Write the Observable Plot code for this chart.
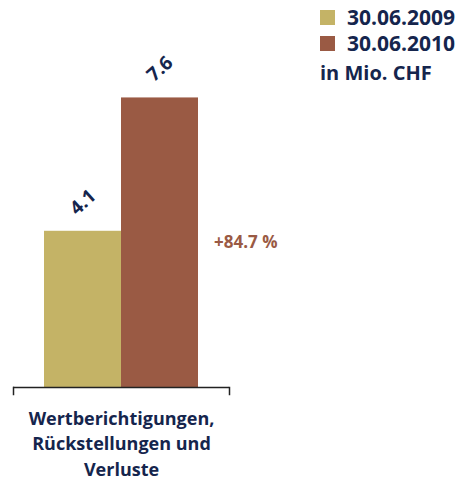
<!DOCTYPE html>
<html>
<head>
<meta charset="utf-8">
<script src="https://cdn.jsdelivr.net/npm/d3@7"></script>
<script src="https://cdn.jsdelivr.net/npm/@observablehq/plot@0.6"></script>
<style>
  html, body { margin: 0; padding: 0; background: #fff; }
  #wrap { position: relative; width: 462px; height: 480px; font-family: "Open Sans", sans-serif; overflow: hidden; }
  #legend { position: absolute; left: 320px; top: 4px; color: #15254d; font-weight: 700; }
  .item { display: flex; align-items: center; height: 26px; font-size: 21px; }
  .sw { width: 15px; height: 15px; margin-right: 12px; }
  .unit { font-size: 20px; margin-top: 3px; }
</style>
</head>
<body>
<div id="wrap">
  <div id="chart"></div>
  <div id="legend"></div>
</div>
<script>
const categories = ["Wertberichtigungen,\nRückstellungen und\nVerluste"];
const series = ["30.06.2009", "30.06.2010"];
const values = [4.1, 7.6];
const colors = ["#c4b366", "#9a5a44"];
const changeLabel = "+84.7 %";
const unitLabel = "in Mio. CHF";
const navy = "#15254d";

const data = series.map((s, i) => ({cat: categories[0], series: s, value: values[i]}));

const chart = Plot.plot({
  width: 462,
  height: 480,
  marginTop: 6,
  marginBottom: 86,
  marginLeft: 13,
  marginRight: 233,
  style: {fontFamily: "Open Sans, sans-serif", overflow: "visible"},
  fx: {domain: categories, padding: 0, axis: null},
  x: {domain: series, paddingInner: 0, paddingOuter: 0.39, axis: null},
  y: {domain: [-0.184, 10], axis: null},
  color: {domain: series, range: colors},
  marks: [
    Plot.barY(data, {fx: "cat", x: "series", y: "value", fill: "series"}),
    Plot.ruleY([0], {stroke: "#222", strokeWidth: 1.3}),
    Plot.frame({anchor: "left", insetTop: 381, stroke: "#222", strokeWidth: 1.5}),
    Plot.frame({anchor: "right", insetTop: 381, stroke: "#222", strokeWidth: 1.5}),
    Plot.text(data, {fx: "cat", x: "series", y: "value", text: d => d.value.toFixed(1),
      rotate: -42, dy: -29, fontSize: 19, fontWeight: "bold", fill: navy}),
    Plot.text([data[1]], {fx: "cat", x: "series", y: d => d.value / 2, text: () => changeLabel,
      textAnchor: "start", dx: 54, fontSize: 17, fontWeight: "bold", fill: colors[1]}),
    Plot.text(categories, {fx: d => d, text: d => d, frameAnchor: "bottom", lineAnchor: "top",
      dy: 12, lineHeight: 1.42, fontSize: 18, fontWeight: "bold", fill: navy})
  ]
});
document.getElementById("chart").appendChild(chart);

const legend = document.getElementById("legend");
series.forEach((s, i) => {
  const item = document.createElement("div");
  item.className = "item";
  const sw = document.createElement("span");
  sw.className = "sw";
  sw.style.background = colors[i];
  item.appendChild(sw);
  item.appendChild(document.createTextNode(s));
  legend.appendChild(item);
});
const unit = document.createElement("div");
unit.className = "unit";
unit.textContent = unitLabel;
legend.appendChild(unit);
</script>
</body>
</html>
